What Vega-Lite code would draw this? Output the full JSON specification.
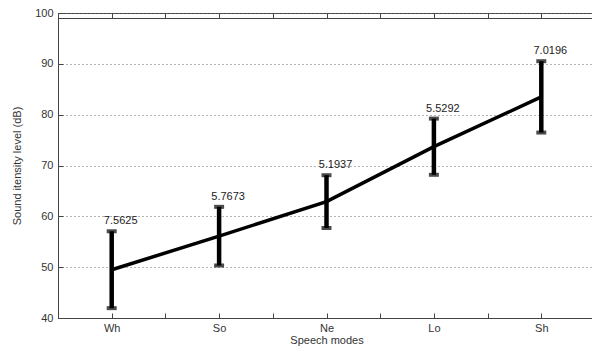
{
  "$schema": "https://vega.github.io/schema/vega-lite/v6.json",
  "width": 537,
  "height": 305,
  "autosize": "none",
  "padding": {"left": 58, "top": 13, "right": 0, "bottom": 29},
  "background": "white",
  "config": {"view": {"stroke": "#444", "strokeWidth": 1}, "font": "Liberation Sans"},
  "data": {"values": [
    {"mode": "Wh", "pos": 1, "mean": 49.5, "lower": 41.94, "upper": 57.06, "sd": "7.5625"},
    {"mode": "So", "pos": 2, "mean": 56.1, "lower": 50.33, "upper": 61.87, "sd": "5.7673"},
    {"mode": "Ne", "pos": 3, "mean": 62.9, "lower": 57.71, "upper": 68.09, "sd": "5.1937"},
    {"mode": "Lo", "pos": 4, "mean": 73.7, "lower": 68.17, "upper": 79.23, "sd": "5.5292"},
    {"mode": "Sh", "pos": 5, "mean": 83.5, "lower": 76.48, "upper": 90.52, "sd": "7.0196"}
  ]},
  "layer": [
    {
      "mark": {"type": "line", "color": "black", "strokeWidth": 3.5},
      "encoding": {
        "x": {"field": "pos", "type": "quantitative",
          "scale": {"domain": [0.5, 5.5], "nice": false, "zero": false},
          "axis": {"title": "Speech modes", "orient": "bottom", "values": [0.5, 1, 1.5, 2, 2.5, 3, 3.5, 4, 4.5, 5, 5.5],
            "labelExpr": "datum.value == 1 ? 'Wh' : datum.value == 2 ? 'So' : datum.value == 3 ? 'Ne' : datum.value == 4 ? 'Lo' : datum.value == 5 ? 'Sh' : ''",
            "tickSize": -5, "labelPadding": 9, "grid": false, "domainColor": "#444", "tickColor": "#444",
            "labelColor": "#333", "labelFontSize": 11, "labelFont": "Liberation Sans",
            "titleFont": "Liberation Sans", "titleFontSize": 11, "titleFontWeight": "normal", "titleColor": "#333", "titlePadding": 1}},
        "y": {"field": "mean", "type": "quantitative",
          "scale": {"domain": [40, 100], "nice": false, "zero": false},
          "axis": {"title": "Sound itensity level (dB)", "values": [40, 50, 60, 70, 80, 90, 100],
            "tickSize": -5, "labelPadding": 10, "grid": true, "gridDash": [1, 3], "gridColor": "#666", "gridOpacity": 1,
            "domainColor": "#444", "tickColor": "#444", "labelColor": "#333", "labelFontSize": 11,
            "titleFont": "Liberation Sans", "titleFontSize": 11, "titleFontWeight": "normal", "titleColor": "#333", "titlePadding": 12}}
      }
    },
    {
      "mark": {"type": "rule", "color": "black", "strokeWidth": 4.5},
      "encoding": {
        "x": {"field": "pos", "type": "quantitative", "axis": {"title": null, "labelExpr": "''", "values": [0.5, 1, 1.5, 2, 2.5, 3, 3.5, 4, 4.5, 5, 5.5], "tickSize": 5, "tickOffset": 0, "ticks": true, "domainColor": "#444", "tickColor": "#444", "tickWidth": 1, "grid": false, "translate": 0.5, "offset": -5}},
        "y": {"field": "lower", "type": "quantitative"}, "y2": {"field": "upper"}}
    },
    {
      "mark": {"type": "tick", "orient": "horizontal", "color": "black", "size": 10, "thickness": 4},
      "encoding": {"x": {"field": "pos", "type": "quantitative", "axis": null}, "y": {"field": "lower", "type": "quantitative"}}
    },
    {
      "mark": {"type": "tick", "orient": "horizontal", "color": "black", "size": 10, "thickness": 4},
      "encoding": {"x": {"field": "pos", "type": "quantitative", "axis": null}, "y": {"field": "upper", "type": "quantitative"}}
    },
    {
      "mark": {"type": "text", "align": "center", "baseline": "alphabetic", "dx": 9, "dy": -7, "fontSize": 11, "color": "#222", "font": "Liberation Sans"},
      "encoding": {"x": {"field": "pos", "type": "quantitative", "axis": null}, "y": {"field": "upper", "type": "quantitative"}, "text": {"field": "sd"}}
    }
  ],
  "resolve": {"axis": {"x": "independent"}}
}
